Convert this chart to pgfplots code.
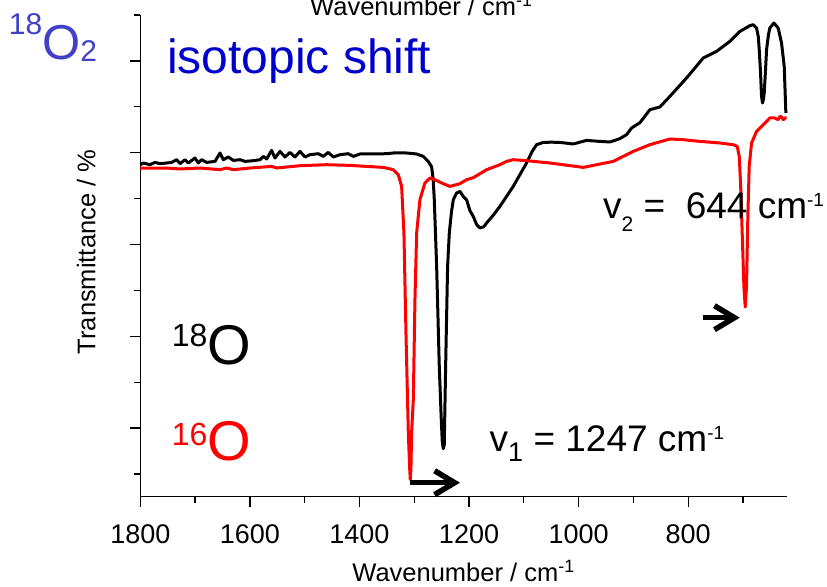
\documentclass[border=0pt]{standalone}
\usepackage{fontspec}
\setmainfont{Liberation Sans}
\usepackage{pgfplots}
\pgfplotsset{compat=1.18}
\usetikzlibrary{arrows.meta}
\newcommand{\sz}[1]{\fontsize{#1}{#1}\selectfont}
\definecolor{oblue}{RGB}{64,64,200}
\definecolor{sblue}{RGB}{0,0,204}
\begin{document}
\begin{tikzpicture}
\begin{axis}[
 at={(0bp,0bp)}, anchor=south west,
 scale only axis, width=646.5bp, height=481.7bp,
 x dir=reverse, xmin=620, xmax=1800, ymin=0, ymax=481.7,
 axis x line*=bottom, axis y line*=left,
 axis line style={line width=1.5bp},
 tick align=outside,
 xtick={800,1000,...,1800}, minor xtick={700,900,...,1700},
 ytick={68.6,160.4,252.2,344,435.8}, minor ytick={22.7,114.5,206.3,298.1,389.9,481.7},
 yticklabels={},
 major tick length=10bp, minor tick length=6bp,
 tick style={line width=1.3bp,black},
 /pgf/number format/assume math mode=true,
 /pgf/number format/1000 sep={},
 tick label style={font=\sz{27bp}},
 xticklabel style={font=\sz{27bp}, anchor=base, yshift=-36.6bp},
 xlabel={Wavenumber / cm\textsuperscript{-1}},
 xlabel style={font=\sz{25.5bp}, at={(axis description cs:0.5,-0.1765)}, anchor=base},
 ylabel={Transmittance / \%},
 ylabel style={font=\sz{25.5bp}, at={(axis description cs:-0.0696,0.508)}, anchor=base},
 clip=false,
]
\addplot[black, line width=3bp, line join=round, mark=none] coordinates {
(1800,332) (1794.5,333.7) (1782.3,332) (1773.2,334.3) (1764,333) (1751.9,333.7) (1742.7,334.3) (1733.6,337) (1727.5,333) (1718.4,337) (1712.3,333.7) (1700.2,338.7) (1694.1,333.7) (1688,337) (1678.9,334.3) (1663.7,335.3) (1654.5,343.7) (1648.5,337) (1639.3,339.7) (1630.2,336.3) (1618,337) (1608.9,335.3) (1593.7,336) (1581.5,337) (1575.5,340.3) (1569.4,337.7) (1560.3,346.3) (1554.2,338.7) (1545,345.3) (1535.9,339.7) (1526.8,344.3) (1517.7,339.7) (1508.6,345.3) (1499.4,339.7) (1490.3,342) (1475.1,343) (1466,340.3) (1456.9,344.3) (1447.7,339.7) (1435.6,342) (1420.4,343) (1411.2,340.3) (1399,342.7) (1374.8,342.7) (1350.4,343) (1338.2,343.7) (1313.9,343.7) (1295.6,342.7) (1283.5,340.3) (1274.4,335.3) (1268.3,330) (1265.5,318) (1263.4,297) (1259.1,230.3) (1254.3,130.3) (1250.5,75) (1248.8,55) (1247,48) (1245.2,52) (1242.7,130.3) (1239.1,230.3) (1236,263.7) (1232,285) (1228.7,297) (1222.6,303.7) (1216.6,305.3) (1210.5,300.3) (1204.5,297) (1198.3,286) (1192.3,280.3) (1186,272) (1180.1,268.7) (1173,270) (1167.9,273.7) (1155,282) (1143.6,290.3) (1119.3,310.3) (1095,333.7) (1085,345) (1076.7,352) (1064.5,354.3) (1050,354.5) (1034.1,354.3) (1009.8,352.7) (985.5,356.3) (961.1,355.3) (942.9,354.7) (925,358) (912.5,362) (903.3,368.7) (888.1,374) (869.9,387) (851.6,389.7) (833.4,400.3) (803,418.7) (772.5,438.7) (748.2,445.3) (723.9,455.3) (705.6,465.3) (687.4,471) (681.3,472) (675.2,468.7) (672,460) (670.3,447) (668,425) (666.1,400.3) (664.3,393.7) (662.5,398) (661.2,403.7) (659,425) (656.9,447) (653.5,462) (650.9,468.7) (643.6,473.7) (635.7,468.7) (629.6,453.7) (624.7,430.3) (621.7,383.7)
};
\addplot[red, line width=3bp, line join=round, mark=none] coordinates {
(1800,328.7) (1775,328.5) (1751.9,328.7) (1727.5,327.7) (1691,328.7) (1654.5,327) (1642.4,328.7) (1630.2,327) (1599.8,328.7) (1560.3,330.3) (1551.1,328.7) (1508.6,331) (1459.9,332) (1417.3,331.3) (1386.9,330.3) (1356.5,329.3) (1338.2,327) (1329.1,322) (1323,310.3) (1318.8,263.7) (1315.1,163.7) (1310.8,63.7) (1308.3,28) (1307.2,17) (1306,28) (1304.8,63.7) (1301.7,97) (1298.7,197) (1295.6,263.7) (1289.6,297) (1280.5,313.7) (1271.3,318.7) (1262.2,317) (1247,313) (1234.8,310.3) (1216.6,313) (1204.5,317) (1192.3,319) (1167.9,327) (1143.6,332) (1131.4,335.3) (1119.3,337) (1095,336) (1052.4,333.7) (991.5,329.3) (936.8,335.3) (900.3,345.3) (869.9,352) (833.4,357.7) (809,357) (778.6,355.3) (742.1,353.7) (717.8,352) (710.5,350.3) (706.8,340.3) (704.4,313.7) (701.4,263.7) (698.3,210.3) (695.9,189.7) (693.5,210.3) (691.1,280.3) (688.6,330.3) (684.3,353.7) (675.2,365.3) (663,372) (650.9,378.7) (644.8,378.7) (641.8,378.7) (635.7,377) (632.6,380.3) (629.6,379.7) (626.5,377) (623.5,378.7) (620.5,378.7)
};
\draw[black, line width=5.5bp, -{Straight Barb[length=20bp,width=24bp]}] (axis cs:1307.7,14) -- (axis cs:1216.6,14);
\draw[black, line width=5.5bp, -{Straight Barb[length=20bp,width=24bp]}] (axis cs:773.2,179) -- (axis cs:705.8,179);
\end{axis}
\node[anchor=base west, inner sep=0, font=\sz{25.5bp}] at (169.7bp,481.5bp) {Wavenumber / cm\textsuperscript{-1}};
\node[anchor=base west, inner sep=0, text=oblue] at (-131.5bp,436.7bp) {\sz{30bp}\raisebox{25bp}{18}\sz{49bp}O\sz{30bp}\raisebox{-2bp}{2}};
\node[anchor=base west, inner sep=0, text=sblue, font=\sz{48bp}] at (26.7bp,423.4bp) {isotopic shift};
\node[anchor=base west, inner sep=0] at (31.4bp,131.7bp) {\sz{32bp}\raisebox{18bp}{18}\sz{56bp}O};
\node[anchor=base west, inner sep=0, text=red] at (31.4bp,36.7bp) {\sz{32bp}\raisebox{15bp}{16}\sz{56bp}O};
\node[anchor=base west, inner sep=0] at (349.2bp,45bp) {\sz{37bp}v\raisebox{-10bp}{\sz{27bp}1} = 1247 cm\raisebox{12bp}{\sz{19bp}-1}};
\node[anchor=base west, inner sep=0] at (462.7bp,278.4bp) {\sz{37bp}v\raisebox{-13bp}{\sz{21bp}2} = \ 644 cm\raisebox{12bp}{\sz{19bp}-1}};
\pgfresetboundingbox
\useasboundingbox (-140.3bp,-90.3bp) rectangle (686.7bp,496.7bp);
\end{tikzpicture}
\end{document}
